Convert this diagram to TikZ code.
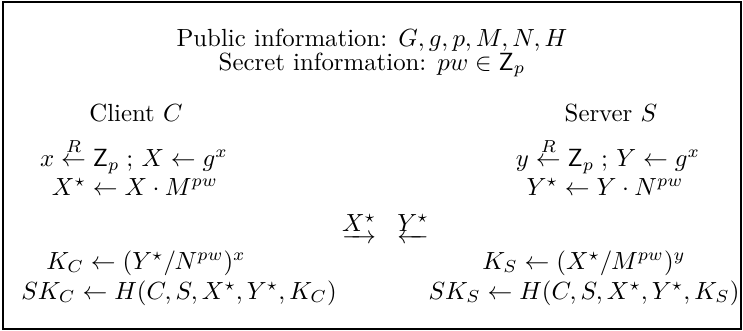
\documentclass[tikz,border=0pt]{standalone}
\usepackage{amsmath}
\begin{document}
\begin{tikzpicture}[x=0.403pt,y=-0.403pt,
  txt/.style={inner sep=0pt,anchor=center},
  frame/.style={draw=black,line width=0.85pt}]
\useasboundingbox (0,0) rectangle (743,331);
\draw[frame] (3,2) rectangle (741,329);
\node[txt] (pub) at (372,40) {Public information: $G, g, p, M, N, H$};
\node[txt] (sec) at (372,65) {Secret information: $pw \in \mathsf{Z}_p$};
\node[txt] (cli) at (136,113) {Client $C$};
\node[txt] (srv) at (611,113) {Server $S$};
\node[txt] (c1) at (134,156) {$x \stackrel{R}{\leftarrow} \mathsf{Z}_p \;;\, X \leftarrow g^x$};
\node[txt] (c2) at (135,187) {$X^\star \leftarrow X \cdot M^{pw}$};
\node[txt] (s1) at (608,156) {$y \stackrel{R}{\leftarrow} \mathsf{Z}_p \;;\, Y \leftarrow g^x$};
\node[txt] (s2) at (605,187) {$Y^\star \leftarrow Y \cdot N^{pw}$};
\node[txt] (mx) at (359,229) {$\underrightarrow{X^\star}$};
\node[txt] (my) at (413,229) {$\underleftarrow{Y^\star}$};
\node[txt] (c3) at (146,263) {$K_C \leftarrow (Y^\star/N^{pw})^x$};
\node[txt] (c4) at (179,293) {$SK_C \leftarrow H(C, S, X^\star, Y^\star, K_C)$};
\node[txt] (s3) at (584,263) {$K_S \leftarrow (X^\star/M^{pw})^y$};
\node[txt] (s4) at (584,293) {$SK_S \leftarrow H(C, S, X^\star, Y^\star, K_S)$};
\end{tikzpicture}
\end{document}
